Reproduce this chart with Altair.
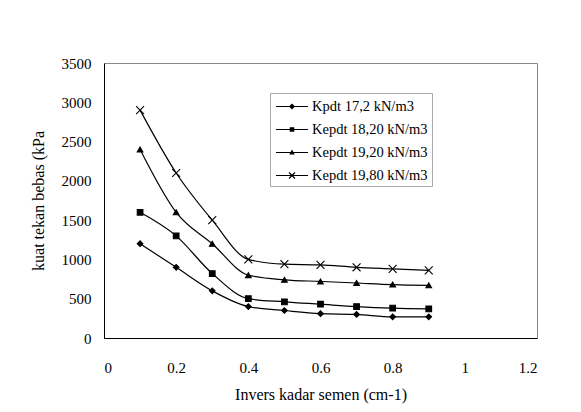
import altair as alt
import pandas as pd

x_vals = [0.1, 0.2, 0.3, 0.4, 0.5, 0.6, 0.7, 0.8, 0.9]
series_names = ["Kpdt 17,2 kN/m3", "Kepdt 18,20 kN/m3", "Kepdt 19,20 kN/m3", "Kepdt 19,80 kN/m3"]
s172 = [1200, 900, 600, 400, 350, 310, 300, 270, 270]
s182 = [1600, 1300, 820, 500, 460, 430, 400, 380, 370]
s192 = [2400, 1600, 1200, 800, 740, 720, 700, 680, 670]
s198 = [2900, 2100, 1500, 1000, 940, 930, 900, 880, 860]
x_ticks = [0, 0.2, 0.4, 0.6, 0.8, 1, 1.2]
y_ticks = [0, 500, 1000, 1500, 2000, 2500, 3000, 3500]

rows = []
for name, vals in zip(series_names, [s172, s182, s192, s198]):
    for xv, yv in zip(x_vals, vals):
        rows.append({"x": xv, "y": yv, "series": name})
df = pd.DataFrame(rows)

FONT = "Liberation Serif"

x_enc = alt.X("x:Q", scale=alt.Scale(domain=[0, 1.2], nice=False),
              axis=alt.Axis(values=x_ticks, format="~g", title="Invers kadar semen (cm-1)",
                            grid=False, ticks=False, labelPadding=22, titlePadding=11,
                            domainColor="black"))
y_enc = alt.Y("y:Q", scale=alt.Scale(domain=[0, 3500], nice=False),
              axis=alt.Axis(values=y_ticks, format="d", title="kuat tekan bebas (kPa",
                            grid=False, ticks=False, labelPadding=13, titlePadding=15,
                            domainColor="black"))

lines = alt.Chart(df).mark_line(color="black", strokeWidth=1.2, interpolate="monotone").encode(
    x=x_enc, y=y_enc, detail="series:N"
)

x_path = "M-1.4,-1.4L1.4,1.4M-1.4,1.4L1.4,-1.4"
points = alt.Chart(df).mark_point(filled=True, color="black", stroke="black", strokeWidth=1.1,
                                  size=32, opacity=1).encode(
    x=x_enc, y=y_enc,
    shape=alt.Shape("series:N",
                    scale=alt.Scale(domain=series_names,
                                    range=["diamond", "square", "triangle-up", x_path]),
                    legend=None)
)

seg = "M-0.88,-0.065H2.88V0.065H-0.88Z"
leg_paths = [
    seg + "M1,-0.36L1.36,0L1,0.36L0.64,0Z",
    seg + "M0.73,-0.27H1.27V0.27H0.73Z",
    seg + "M1,-0.34L1.32,0.24H0.68Z",
    seg + "M0.6,-0.3L0.7,-0.4L1.4,0.3L1.3,0.4ZM0.6,0.3L1.3,-0.4L1.4,-0.3L0.7,0.4Z",
]
legend_layer = alt.Chart(df).transform_filter("false").mark_point(
    filled=True, color="black", opacity=1).encode(
    shape=alt.Shape("series:N",
                    scale=alt.Scale(domain=series_names, range=leg_paths),
                    legend=alt.Legend(title=None, orient="none", legendX=166, legendY=30,
                                      symbolSize=289, rowPadding=7, padding=4,
                                      labelOffset=19, labelFont=FONT, labelFontSize=14.5,
                                      labelColor="black", symbolFillColor="black",
                                      symbolOpacity=1,
                                      strokeColor="#aaaaaa", labelLimit=220))
)

chart = alt.layer(lines, points, legend_layer).resolve_scale(shape="independent").properties(
    width=433, height=275,
    autosize=alt.AutoSizeParams(type="none"),
    padding={"left": 96, "top": 55, "right": 30, "bottom": 66},
    background="white",
).configure_view(stroke="#888888", strokeWidth=1).configure_axis(
    labelFont=FONT, labelFontSize=15, labelColor="black",
    titleFont=FONT, titleFontSize=16, titleFontWeight="normal", titleColor="black",
    domainWidth=1
)

chart.save("out.html", embed_options={"renderer": "svg", "actions": False})
